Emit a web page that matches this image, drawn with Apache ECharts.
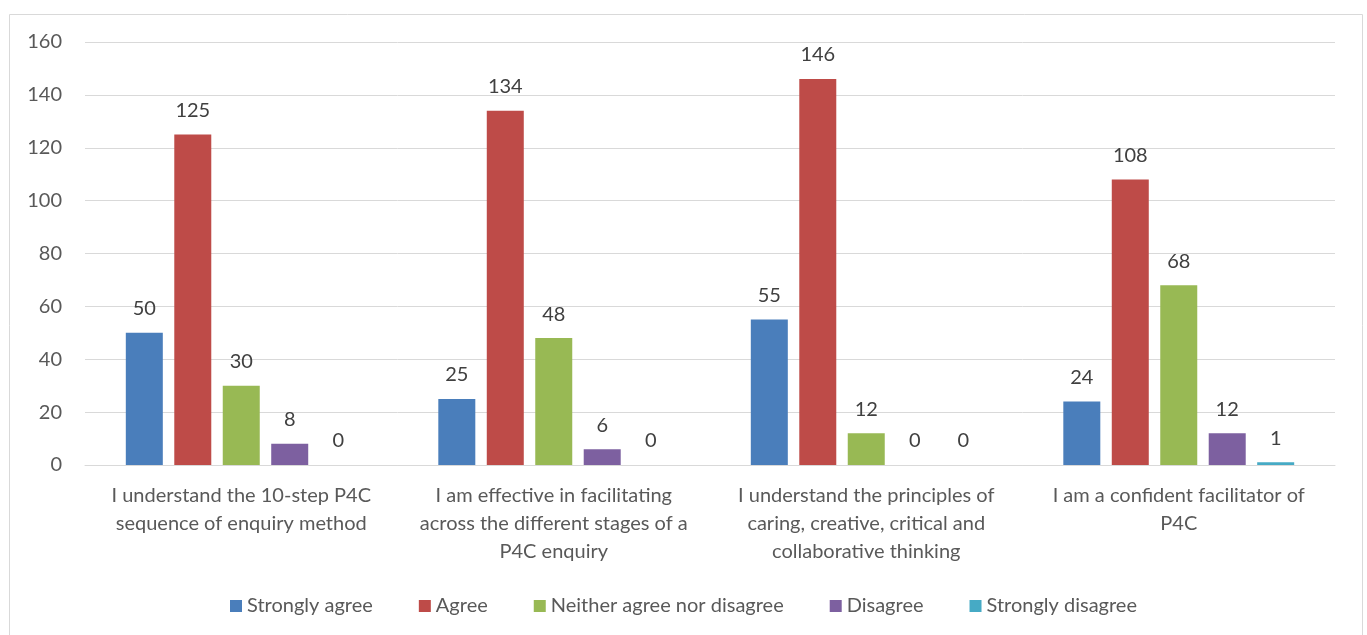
<!DOCTYPE html>
<html>
<head>
<meta charset="utf-8">
<script src="https://cdn.jsdelivr.net/npm/echarts@6/dist/echarts.min.js"></script>
<style>
  html, body { margin: 0; padding: 0; background: #fff; }
  #chart { width: 1367px; height: 635px; }
</style>
</head>
<body>
<div id="chart"></div>
<script>
// Survey statements (line breaks as they wrap under the axis)
const categories = [
  'I understand the 10-step P4C\nsequence of enquiry method',
  'I am effective in facilitating\nacross the different stages of a\nP4C enquiry',
  'I understand the principles of\ncaring, creative, critical and\ncollaborative thinking',
  'I am a confident facilitator of\nP4C'
];

// Response counts per answer option
const seriesNames = ['Strongly agree', 'Agree', 'Neither agree nor disagree', 'Disagree', 'Strongly disagree'];
const stronglyAgree = [50, 25, 55, 24];
const agree = [125, 134, 146, 108];
const neither = [30, 48, 12, 68];
const disagree = [8, 6, 0, 12];
const stronglyDisagree = [0, 0, 0, 1];

const yTicks = { min: 0, max: 160, interval: 20 };

const colors = ['#4a7ebb', '#be4b48', '#98b954', '#7d60a0', '#46aac5'];
const values = [stronglyAgree, agree, neither, disagree, stronglyDisagree];
const textColor = '#595959';
const font = 'Lato, "Open Sans", sans-serif';
const fontSize = 20;

const chart = echarts.init(document.getElementById('chart'), null, { renderer: 'canvas' });

chart.setOption({
  animation: false,
  color: colors,
  textStyle: { fontFamily: font },
  graphic: [{
    type: 'rect',
    shape: { x: 9.5, y: 14.5, width: 1353, height: 640 },
    style: { fill: 'none', stroke: '#d9d9d9', lineWidth: 1 },
    silent: true
  }],
  grid: { left: 85, right: 32, top: 42, bottom: 170 },
  legend: {
    data: seriesNames,
    left: 'center',
    top: 591,
    itemWidth: 12,
    itemHeight: 12,
    itemGap: 46,
    icon: 'rect',
    textStyle: { color: textColor, fontSize: fontSize, fontFamily: font }
  },
  xAxis: {
    type: 'category',
    data: categories,
    axisLine: { lineStyle: { color: '#d9d9d9' } },
    axisTick: { show: false },
    axisLabel: {
      color: textColor,
      fontSize: fontSize,
      lineHeight: 28,
      margin: 17,
      interval: 0,
      fontFamily: font
    }
  },
  yAxis: {
    type: 'value',
    min: yTicks.min,
    max: yTicks.max,
    interval: yTicks.interval,
    axisLine: { show: false },
    axisTick: { show: false },
    axisLabel: { color: textColor, fontSize: fontSize, margin: 23, fontFamily: font },
    splitLine: { lineStyle: { color: '#d9d9d9' } }
  },
  series: seriesNames.map((name, i) => ({
    name,
    type: 'bar',
    data: values[i],
    barWidth: 37,
    barGap: '31%',
    barCategoryGap: '26%',
    label: {
      show: true,
      position: 'top',
      distance: 14,
      color: '#404040',
      fontSize: fontSize,
      fontFamily: font
    }
  }))
});
</script>
</body>
</html>
